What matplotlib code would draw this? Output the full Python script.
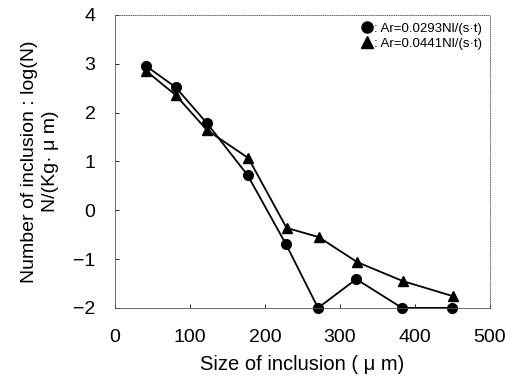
import numpy as np
import matplotlib.pyplot as plt
from matplotlib.lines import Line2D

plt.rcParams['font.family'] = ['Liberation Sans', 'DejaVu Sans']

# inclusion size (um)
size_a = [42, 81, 123, 177, 228, 271, 322, 383, 449]
logn_a = [2.95, 2.52, 1.78, 0.72, -0.69, -2.0, -1.41, -2.0, -2.0]
size_b = [42, 81, 123, 178, 229, 272, 323, 384, 451]
logn_b = [2.85, 2.36, 1.64, 1.07, -0.36, -0.55, -1.06, -1.45, -1.76]
labels = [': Ar=0.0293Nl/(s·t)', ': Ar=0.0441Nl/(s·t)']

fig = plt.figure(figsize=(5.15, 3.83), dpi=100)
ax = fig.add_axes([0.223, 0.196, 0.728, 0.765])

ax.plot(size_a, logn_a, color='black', lw=1.3, marker='o', ms=7, clip_on=False)
ax.plot(size_b, logn_b, color='black', lw=1.3, marker='^', ms=7, clip_on=False)

ax.set_xlim(0, 500)
ax.set_ylim(-2, 4)
ax.set_xticks(np.arange(0, 501, 100))
ax.set_yticks(np.arange(-2, 5, 1))
ax.tick_params(direction='in', length=3, width=0.6, labelsize=14)
ax.tick_params(axis='y', pad=14)
ax.tick_params(axis='x', pad=15)
for s in ax.spines.values():
    s.set_linewidth(0.6)
    s.set_color('#555555')
ax.spines['top'].set_linestyle(':')
ax.spines['right'].set_linestyle(':')

ax.set_xlabel('Size of inclusion ( μ m)', fontsize=14.5, labelpad=7)
ax.set_ylabel('Number of inclusion : log(N)\nN/(Kg· μ m)', fontsize=14, labelpad=10, linespacing=1.35)

handles = [Line2D([], [], color='black', marker='o', ls='none', ms=8),
           Line2D([], [], color='black', marker='^', ls='none', ms=8)]
ax.legend(handles, labels, loc='upper right', frameon=False, fontsize=9.5, handletextpad=0.0,
          handlelength=1.0, borderaxespad=0.2, labelspacing=0.2)

fig.savefig('out.png', dpi=100)
